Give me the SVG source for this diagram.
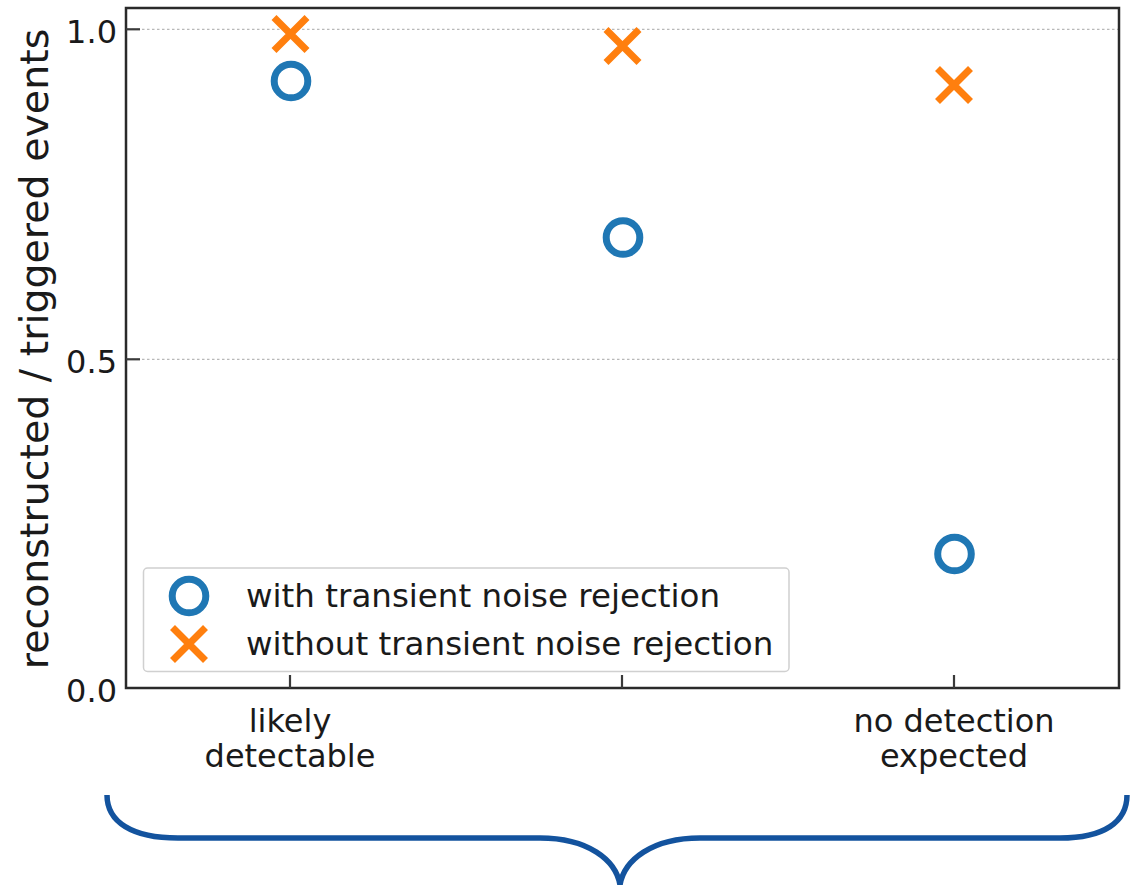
<svg xmlns="http://www.w3.org/2000/svg" width="1131" height="885" viewBox="0 0 1131 885">
<style>
text { font-family: "DejaVu Sans", "Liberation Sans", sans-serif; fill: #1a1a1a; }
.tick { font-size: 32px; }
.ylab { font-size: 39.5px; }
.leg { font-size: 32.5px; }
.grid { stroke: #b8b8b8; stroke-width: 1.2; stroke-dasharray: 2.5 2.5; fill: none; }
.spine { stroke: #2a2a2a; stroke-width: 2.5; fill: none; }
.tk { stroke: #3a3a3a; stroke-width: 2.2; }
.circ { fill: none; stroke: #1f77b4; stroke-width: 7; }
.cross { stroke: #ff7f0e; stroke-width: 7; fill: none; }
.brace { stroke: #13539e; stroke-width: 5.5; fill: none; stroke-linecap: butt; }
</style>
<defs>
<g id="mx"><path class="cross" d="M-16.5,-16.5 L16.5,16.5 M-16.5,16.5 L16.5,-16.5"/></g>
<g id="mo"><circle class="circ" cx="0" cy="0" r="16.8"/></g>
</defs>
<rect x="0" y="0" width="1131" height="885" fill="#ffffff"/>
<g id="grid">
<line class="grid" x1="127" y1="29.3" x2="1118" y2="29.3"/>
<line class="grid" x1="127" y1="359.3" x2="1118" y2="359.3"/>
</g>
<g id="axes">
<rect class="spine" x="126" y="8" width="993" height="680"/>
<line class="tk" x1="126" y1="29.3" x2="140" y2="29.3"/>
<line class="tk" x1="126" y1="359.3" x2="140" y2="359.3"/>
<line class="tk" x1="290" y1="688" x2="290" y2="675"/>
<line class="tk" x1="622" y1="688" x2="622" y2="675"/>
<line class="tk" x1="954" y1="688" x2="954" y2="675"/>
<text class="tick" x="117" y="42.5" text-anchor="end">1.0</text>
<text class="tick" x="117" y="372.5" text-anchor="end">0.5</text>
<text class="tick" x="117" y="701.5" text-anchor="end">0.0</text>
<text class="tick" x="290" y="732" text-anchor="middle">likely</text>
<text class="tick" x="290" y="767" text-anchor="middle">detectable</text>
<text class="tick" x="954" y="732" text-anchor="middle">no detection</text>
<text class="tick" x="954" y="767" text-anchor="middle">expected</text>
<text class="ylab" transform="translate(48,349) rotate(-90)" text-anchor="middle">reconstructed / triggered events</text>
</g>
<g id="series-with">
<use href="#mo" x="291" y="81"/>
<use href="#mo" x="623" y="237.5"/>
<use href="#mo" x="954.5" y="554"/>
</g>
<g id="series-without">
<use href="#mx" x="290.5" y="34"/>
<use href="#mx" x="622.5" y="46"/>
<use href="#mx" x="954" y="85"/>
</g>
<g id="legend">
<rect x="143.5" y="568" width="645.5" height="103.5" rx="4" fill="#ffffff" fill-opacity="0.8" stroke="#d0d0d0" stroke-width="1.5"/>
<use href="#mo" x="189" y="596"/>
<use href="#mx" x="189" y="644"/>
<text class="leg" x="246" y="607">with transient noise rejection</text>
<text class="leg" x="246" y="655">without transient noise rejection</text>
</g>
<g id="connectors">
<path class="brace" d="M107,795 C107,822 132,838 178,838 L540,838 C588,838 616,860 620,885 C624,860 652,838 700,838 L1060,838 C1104,838 1127,822 1127,795"/>
</g>
</svg>
